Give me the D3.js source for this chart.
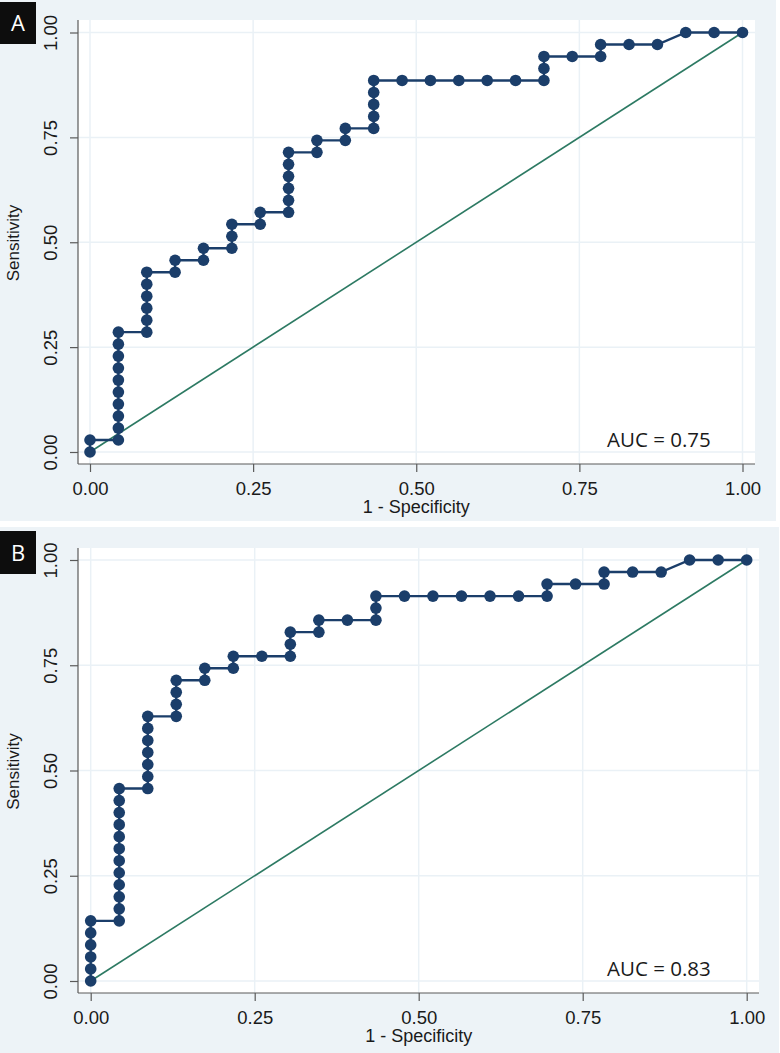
<!DOCTYPE html>
<html>
<head>
<meta charset="utf-8">
<script src="https://cdn.jsdelivr.net/npm/d3@7"></script>
<style>
  html, body { margin: 0; padding: 0; background: #ffffff; }
  svg { display: block; }
</style>
</head>
<body>
<svg id="chart" width="780" height="1053"></svg>
<script>
// ---- data (1 - specificity, sensitivity) ----
const fprA = [0,0,
  .0435,.0435,.0435,.0435,.0435,.0435,.0435,.0435,.0435,.0435,
  .0870,.0870,.0870,.0870,.0870,.0870,
  .1304,.1304, .1739,.1739, .2174,.2174,.2174, .2609,.2609,
  .3043,.3043,.3043,.3043,.3043,.3043, .3478,.3478, .3913,.3913,
  .4348,.4348,.4348,.4348,.4348, .4783,.5217,.5652,.6087,.6522,
  .6957,.6957,.6957, .7391, .7826,.7826, .8261, .8696, .9130, .9565, 1];
const tprA = [0,.0286,
  .0286,.0571,.0857,.1143,.1429,.1714,.2,.2286,.2571,.2857,
  .2857,.3143,.3429,.3714,.4,.4286,
  .4286,.4571, .4571,.4857, .4857,.5143,.5429, .5429,.5714,
  .5714,.6,.6286,.6571,.6857,.7143, .7143,.7429, .7429,.7714,
  .7714,.8,.8286,.8571,.8857, .8857,.8857,.8857,.8857,.8857,
  .8857,.9143,.9429, .9429, .9429,.9714, .9714, .9714, 1, 1, 1];

const fprB = [0,0,0,0,0,0,
  .0435,.0435,.0435,.0435,.0435,.0435,.0435,.0435,.0435,.0435,.0435,.0435,
  .0870,.0870,.0870,.0870,.0870,.0870,.0870,
  .1304,.1304,.1304,.1304, .1739,.1739, .2174,.2174, .2609,
  .3043,.3043,.3043, .3478,.3478, .3913, .4348,.4348,.4348,
  .4783,.5217,.5652,.6087,.6522, .6957,.6957, .7391, .7826,.7826,
  .8261, .8696, .9130, .9565, 1];
const tprB = [0,.0286,.0571,.0857,.1143,.1429,
  .1429,.1714,.2,.2286,.2571,.2857,.3143,.3429,.3714,.4,.4286,.4571,
  .4571,.4857,.5143,.5429,.5714,.6,.6286,
  .6286,.6571,.6857,.7143, .7143,.7429, .7429,.7714, .7714,
  .7714,.8,.8286, .8286,.8571, .8571, .8571,.8857,.9143,
  .9143,.9143,.9143,.9143,.9143, .9143,.9429, .9429, .9429,.9714,
  .9714, .9714, 1, 1, 1];

const refLine = [0, 1];
const xTicks = [0, 0.25, 0.5, 0.75, 1];
const yTicks = [0, 0.25, 0.5, 0.75, 1];
const panelLetters = ["A", "B"];
const aucLabels = ["AUC = 0.75", "AUC = 0.83"];
const xTitle = "1 - Specificity";
const yTitle = "Sensitivity";

// ---- layout ----
const panels = [
  { fpr: fprA, tpr: tprA, letter: panelLetters[0], auc: aucLabels[0],
    bg: [0, 0, 776, 521], plot: [78, 20, 755, 464], x: [90, 742.5], y: [452, 32.5],
    box: [0, 2, 36, 44] },
  { fpr: fprB, tpr: tprB, letter: panelLetters[1], auc: aucLabels[1],
    bg: [0, 527, 779, 1053], plot: [78, 548, 759, 993], x: [90.7, 746.7], y: [981, 560],
    box: [0, 531, 36, 574] }
];

const svg = d3.select("#chart");
const BG = "#edf3f7";
const GRID = "#eaf1f6";
const NAVY = "#1b3e6a";
const TEAL = "#2d7a63";
const AXIS = "#5a5a5a";
const tickFont = "'Liberation Sans', Arial, sans-serif";

panels.forEach(p => {
  const g = svg.append("g");
  g.append("rect").attr("x", p.bg[0]).attr("y", p.bg[1])
    .attr("width", p.bg[2] - p.bg[0]).attr("height", p.bg[3] - p.bg[1]).attr("fill", BG);
  g.append("rect").attr("x", p.plot[0]).attr("y", p.plot[1])
    .attr("width", p.plot[2] - p.plot[0]).attr("height", p.plot[3] - p.plot[1]).attr("fill", "#ffffff");

  const x = d3.scaleLinear().domain([0, 1]).range(p.x);
  const y = d3.scaleLinear().domain([0, 1]).range(p.y);

  // grid
  g.append("g").selectAll("line").data(xTicks).join("line")
    .attr("x1", d => x(d)).attr("x2", d => x(d))
    .attr("y1", p.plot[1]).attr("y2", p.plot[3])
    .attr("stroke", GRID).attr("stroke-width", 1.5);
  g.append("g").selectAll("line").data(yTicks).join("line")
    .attr("y1", d => y(d)).attr("y2", d => y(d))
    .attr("x1", p.plot[0]).attr("x2", p.plot[2])
    .attr("stroke", GRID).attr("stroke-width", 1.5);

  // axes
  const xAxis = d3.axisBottom(x).tickValues(xTicks).tickFormat(d3.format(".2f"))
    .tickSize(8).tickSizeOuter(0);
  const gx = g.append("g").attr("transform", `translate(0,${p.plot[3]})`).call(xAxis);
  gx.select(".domain").remove();
  gx.append("line").attr("x1", p.plot[0]).attr("x2", p.plot[2]).attr("y1", 0).attr("y2", 0)
    .attr("stroke", AXIS).attr("stroke-width", 1.2);
  gx.selectAll(".tick line").attr("stroke", AXIS).attr("stroke-width", 1.2);
  gx.selectAll(".tick text").attr("font-family", tickFont).attr("font-size", 18.5)
    .attr("fill", "#1a1a1a").attr("dy", "0").attr("y", 31);

  const yAxis = d3.axisLeft(y).tickValues(yTicks).tickFormat(d3.format(".2f"))
    .tickSize(8).tickSizeOuter(0);
  const gy = g.append("g").attr("transform", `translate(${p.plot[0]},0)`).call(yAxis);
  gy.select(".domain").remove();
  gy.append("line").attr("x1", 0).attr("x2", 0).attr("y1", p.plot[1]).attr("y2", p.plot[3])
    .attr("stroke", AXIS).attr("stroke-width", 1.2);
  gy.selectAll(".tick line").attr("stroke", AXIS).attr("stroke-width", 1.2);
  gy.selectAll(".tick text")
    .attr("font-family", tickFont).attr("font-size", 18.5).attr("fill", "#1a1a1a")
    .attr("x", null).attr("dy", null).attr("text-anchor", "middle")
    .attr("transform", "translate(-21,0) rotate(-90)")
    .attr("y", 0).attr("dy", "0");

  // axis titles
  g.append("text").attr("x", (p.x[0] + p.x[1]) / 2).attr("y", p.plot[3] + 49)
    .attr("text-anchor", "middle").attr("font-family", tickFont).attr("font-size", 18)
    .attr("fill", "#1a1a1a").text(xTitle);
  g.append("text")
    .attr("transform", `translate(19,${(p.plot[1] + p.plot[3]) / 2 + 1}) rotate(-90)`)
    .attr("text-anchor", "middle").attr("font-family", tickFont).attr("font-size", 17)
    .attr("fill", "#1a1a1a").text(yTitle);

  // reference diagonal
  g.append("line").attr("x1", x(refLine[0])).attr("y1", y(refLine[0]))
    .attr("x2", x(refLine[1])).attr("y2", y(refLine[1]))
    .attr("stroke", TEAL).attr("stroke-width", 1.6);

  // ROC curve
  const pts = p.fpr.map((v, i) => [v, p.tpr[i]]);
  const line = d3.line().x(d => x(d[0])).y(d => y(d[1]));
  g.append("path").attr("d", line(pts)).attr("fill", "none")
    .attr("stroke", NAVY).attr("stroke-width", 2.4);
  g.append("g").selectAll("circle").data(pts).join("circle")
    .attr("cx", d => x(d[0])).attr("cy", d => y(d[1])).attr("r", 5.8)
    .attr("fill", NAVY);

  // AUC text
  g.append("text").attr("x", 607).attr("y", p.plot[3] - 17)
    .attr("font-family", "'Open Sans', sans-serif").attr("font-size", 20.5)
    .attr("fill", "#1a1a1a").text(p.auc);

  // panel letter box
  g.append("rect").attr("x", p.box[0]).attr("y", p.box[1])
    .attr("width", p.box[2] - p.box[0]).attr("height", p.box[3] - p.box[1]).attr("fill", "#0d0d0d");
  g.append("text").attr("x", (p.box[0] + p.box[2]) / 2).attr("y", (p.box[1] + p.box[3]) / 2 + 8)
    .attr("text-anchor", "middle").attr("font-family", "'Open Sans', sans-serif")
    .attr("font-size", 22).attr("fill", "#ffffff").text(p.letter);
});
</script>
</body>
</html>
